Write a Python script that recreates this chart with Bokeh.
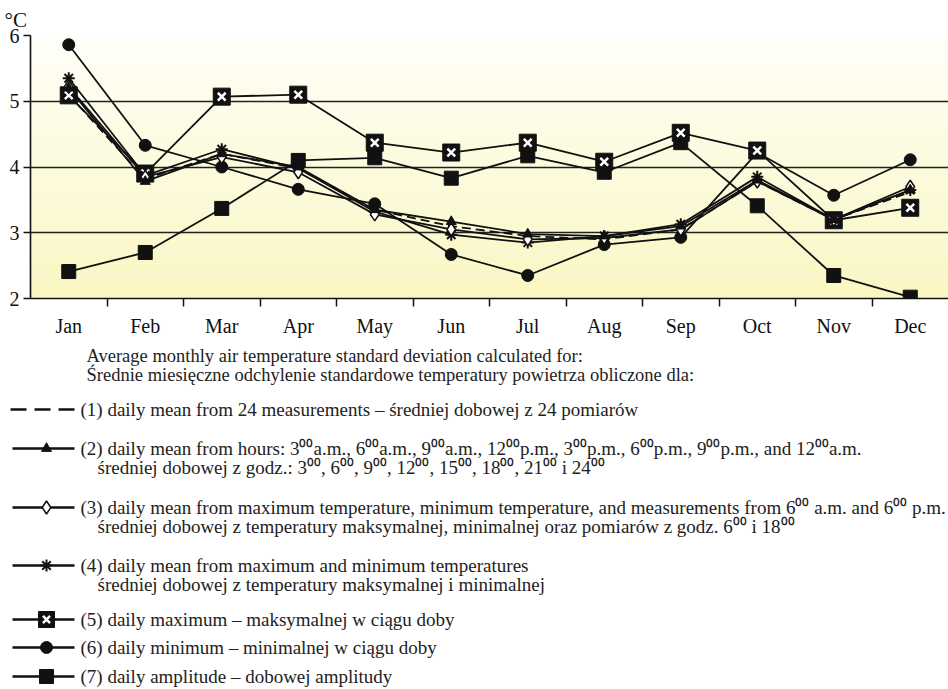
from bokeh.plotting import figure
from bokeh.models import ColumnDataSource, Range1d, FixedTicker
from bokeh.layouts import column, row
from bokeh.embed import file_html
from bokeh.resources import INLINE
from bokeh.core.properties import value

# ---------------- data ----------------
months = ["Jan", "Feb", "Mar", "Apr", "May", "Jun",
          "Jul", "Aug", "Sep", "Oct", "Nov", "Dec"]
mean_24 = [5.10, 3.82, 4.20, 3.98, 3.35, 3.10, 2.95, 2.90, 3.05, 3.78, 3.20, 3.62]
mean_8h = [5.20, 3.78, 4.20, 4.00, 3.35, 3.17, 2.98, 2.95, 3.10, 3.80, 3.20, 3.65]
mean_mm_6_18 = [5.22, 3.85, 4.15, 3.92, 3.28, 3.05, 2.90, 2.92, 3.05, 3.78, 3.20, 3.70]
mean_mm = [5.35, 3.87, 4.27, 3.98, 3.32, 2.97, 2.85, 2.95, 3.13, 3.85, 3.20, 3.65]
daily_max = [5.09, 3.90, 5.07, 5.10, 4.37, 4.22, 4.37, 4.08, 4.52, 4.25, 3.19, 3.38]
daily_min = [5.86, 4.33, 4.00, 3.66, 3.44, 2.67, 2.35, 2.82, 2.93, 4.22, 3.57, 4.11]
daily_amp = [2.41, 2.70, 3.37, 4.10, 4.14, 3.83, 4.17, 3.92, 4.37, 3.41, 2.35, 2.02]
y_ticks = [2, 3, 4, 5, 6]

heading = ["Average monthly air temperature standard deviation calculated for:",
           "Średnie miesięczne odchylenie standardowe temperatury powietrza obliczone dla:"]
legend_lines = [
    ["(1) daily mean from 24 measurements – średniej dobowej z 24 pomiarów"],
    ["(2) daily mean from hours: 3⁰⁰a.m., 6⁰⁰a.m., 9⁰⁰a.m., 12⁰⁰p.m., 3⁰⁰p.m., 6⁰⁰p.m., 9⁰⁰p.m., and 12⁰⁰a.m.",
     "średniej dobowej z godz.: 3⁰⁰, 6⁰⁰, 9⁰⁰, 12⁰⁰, 15⁰⁰, 18⁰⁰, 21⁰⁰ i 24⁰⁰"],
    ["(3) daily mean from maximum temperature, minimum temperature, and measurements from 6⁰⁰ a.m. and 6⁰⁰ p.m.",
     "średniej dobowej z temperatury maksymalnej, minimalnej oraz pomiarów z godz. 6⁰⁰ i 18⁰⁰"],
    ["(4) daily mean from maximum and minimum temperatures",
     "średniej dobowej z temperatury maksymalnej i minimalnej"],
    ["(5) daily maximum – maksymalnej w ciągu doby"],
    ["(6) daily minimum – minimalnej w ciągu doby"],
    ["(7) daily amplitude – dobowej amplitudy"],
]

FONT = "Liberation Serif"
BLACK = "#111111"

x = [i + 0.5 for i in range(len(months))]
src = ColumnDataSource(dict(x=x, s1=mean_24, s2=mean_8h, s3=mean_mm_6_18, s4=mean_mm,
                            s5=daily_max, s6=daily_min, s7=daily_amp))

# ---------------- chart ----------------
CH = 344
p = figure(width=948, height=CH, x_range=Range1d(0, 12), y_range=Range1d(2, 6),
           output_backend="svg", toolbar_location=None,
           min_border_left=30, min_border_right=0, min_border_top=35, min_border_bottom=46)
p.outline_line_color = None
p.background_fill_color = "white"
p.border_fill_color = "white"

p.title.text = "°C"
p.title.align = "left"
p.title.offset = -26
p.title.text_font = FONT
p.title.text_font_style = "normal"
p.title.text_font_size = "21px"
p.title.text_color = BLACK
p.title.standoff = 8

# vertical gradient background (styling only)
n = 60
bot_c = (250, 247, 194)
top_c = (255, 255, 248)
sb, st, sc = [], [], []
for k in range(n):
    f = k / (n - 1)
    sb.append(2 + 4 * k / n)
    st.append(2 + 4 * (k + 1) / n)
    r = int(bot_c[0] + (top_c[0] - bot_c[0]) * f)
    g = int(bot_c[1] + (top_c[1] - bot_c[1]) * f)
    b = int(bot_c[2] + (top_c[2] - bot_c[2]) * f)
    sc.append("#%02x%02x%02x" % (r, g, b))
p.quad(left=0, right=12, bottom=sb, top=st, fill_color=sc, line_color=None, level="underlay")

p.xgrid.visible = False
p.ygrid.ticker = FixedTicker(ticks=y_ticks)
p.ygrid.grid_line_color = "#222222"
p.ygrid.grid_line_width = 1.6

# axes
p.xaxis.ticker = FixedTicker(ticks=x, minor_ticks=list(range(1, 12)))
p.xaxis.major_label_overrides = {xi: m for xi, m in zip(x, months)}
p.xaxis.minor_tick_in = 0
p.xaxis.minor_tick_out = 8
p.xaxis.minor_tick_line_color = BLACK
p.xaxis.minor_tick_line_width = 1.5
p.xaxis.major_label_standoff = 8
p.yaxis.ticker = FixedTicker(ticks=y_ticks)
p.yaxis.major_tick_in = 0
p.yaxis.major_tick_out = 7
p.yaxis.minor_tick_line_color = None
p.yaxis.major_label_standoff = 4
for ax in (p.xaxis, p.yaxis):
    ax.axis_line_color = BLACK
    ax.axis_line_width = 1.6
    ax.major_tick_line_width = 1.5
    ax.major_label_text_font = FONT
    ax.major_label_text_font_size = "20px"
    ax.major_label_text_color = BLACK
p.xaxis.major_tick_line_color = None
p.yaxis.major_tick_line_color = BLACK

LW = 1.8
p.line("x", "s7", source=src, line_color=BLACK, line_width=LW)
p.line("x", "s6", source=src, line_color=BLACK, line_width=LW)
p.line("x", "s5", source=src, line_color=BLACK, line_width=LW)
p.line("x", "s4", source=src, line_color=BLACK, line_width=LW)
p.line("x", "s3", source=src, line_color=BLACK, line_width=LW)
p.line("x", "s2", source=src, line_color=BLACK, line_width=LW)
p.line("x", "s1", source=src, line_color=BLACK, line_width=LW, line_dash="9 5")

p.scatter("x", "s7", source=src, marker="square", size=14, fill_color=BLACK, line_color=BLACK)
p.scatter("x", "s6", source=src, marker="circle", size=12, fill_color=BLACK, line_color=BLACK)
p.scatter("x", "s5", source=src, marker="square", size=17, fill_color=BLACK, line_color=BLACK)
p.scatter("x", "s5", source=src, marker="x", size=11, line_color="white", line_width=2.5)
p.scatter("x", "s4", source=src, marker="asterisk", size=12, line_color=BLACK, line_width=2)
p.scatter("x", "s3", source=src, marker="diamond", size=13, fill_color="white",
          line_color=BLACK, line_width=1.5)
p.scatter("x", "s2", source=src, marker="triangle", size=10, fill_color=BLACK, line_color=BLACK)

# ---------------- legend ----------------
LH = 689 - CH
lg = figure(width=948, height=LH, x_range=Range1d(0, 948), y_range=Range1d(LH, 0),
            output_backend="svg", toolbar_location=None, x_axis_type=None, y_axis_type=None,
            min_border=0)
lg.grid.visible = False
lg.outline_line_color = None

lg.text(x=[86, 86], y=[355 - CH, 374 - CH], text=heading, text_font=value(FONT),
        text_font_size="18.5px", text_color="#222222", text_baseline="middle")

entry_y = [409, 448, 507, 565, 619, 647, 676]
entry_y = [v - CH for v in entry_y]
line_gap = 19
tx, ty, tt = [], [], []
for yy, lines in zip(entry_y, legend_lines):
    for j, t in enumerate(lines):
        tx.append(80 if j == 0 else 97)
        ty.append(yy + j * line_gap)
        tt.append(t)
lg.text(x=tx, y=ty, text=tt, text_font=value(FONT), text_font_size="19px",
        text_color="#222222", text_baseline="middle")

# samples
lg.segment(x0=[10], y0=[entry_y[0]], x1=[74], y1=[entry_y[0]], line_color=BLACK,
           line_width=2.4, line_dash="16 8")
lg.segment(x0=[12] * 6, y0=entry_y[1:], x1=[74] * 6, y1=entry_y[1:], line_color=BLACK, line_width=2.4)
mx = 46
lg.scatter([mx], [entry_y[1]], marker="triangle", size=10, fill_color=BLACK, line_color=BLACK)
lg.scatter([mx], [entry_y[2]], marker="diamond", size=13, fill_color="white", line_color=BLACK, line_width=1.5)
lg.scatter([mx], [entry_y[3]], marker="asterisk", size=12, line_color=BLACK, line_width=2)
lg.scatter([mx], [entry_y[4]], marker="square", size=16, fill_color=BLACK, line_color=BLACK)
lg.scatter([mx], [entry_y[4]], marker="x", size=10, line_color="white", line_width=2.5)
lg.scatter([mx], [entry_y[5]], marker="circle", size=12, fill_color=BLACK, line_color=BLACK)
lg.scatter([mx], [entry_y[6]], marker="square", size=14, fill_color=BLACK, line_color=BLACK)

layout = column(p, row(lg), spacing=0)
open("out.html", "w").write(file_html(layout, INLINE))
